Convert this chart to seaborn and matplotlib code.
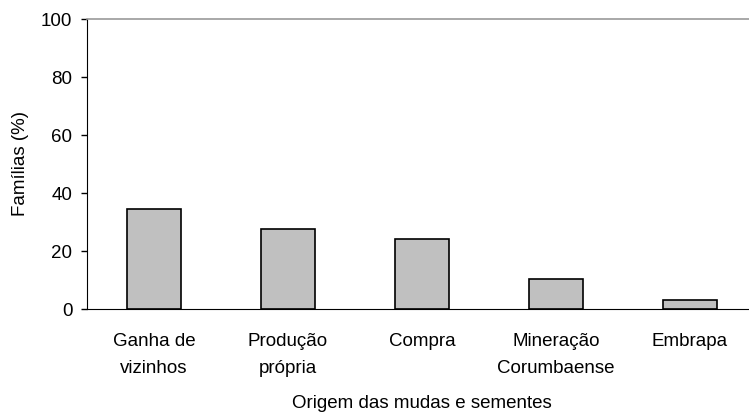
import matplotlib
matplotlib.use("Agg")
import matplotlib.pyplot as plt
import seaborn as sns
import pandas as pd

# Origem das mudas e sementes
categories = ["Ganha de\nvizinhos", "Produção\nprópria", "Compra",
              "Mineração\nCorumbaense", "Embrapa"]
percent = [34.5, 27.6, 24.2, 10.3, 3.2]

df = pd.DataFrame({"origem": categories, "familias": percent})

sns.set_style("white")
plt.rcParams['font.family'] = ['Liberation Sans', 'DejaVu Sans']
plt.rcParams['text.color'] = 'black'
plt.rcParams['axes.labelcolor'] = 'black'
plt.rcParams['xtick.color'] = 'black'
plt.rcParams['ytick.color'] = 'black'

FS = 13.5

fig = plt.figure(figsize=(7.49, 4.12), dpi=100)
# axes run a little past the right edge, as in the original
ax = fig.add_axes([87 / 749, 103 / 412, 670 / 749, 290 / 412])

sns.barplot(data=df, x="origem", y="familias", color="#c0c0c0",
            edgecolor="black", linewidth=1.2, width=0.41, saturation=1, ax=ax)

ax.set_xlim(-0.5, 4.5)
ax.set_ylim(0, 100)
ax.set_yticks([0, 20, 40, 60, 80, 100])

ax.set_xlabel("Origem das mudas e sementes", fontsize=FS, labelpad=13)
ax.set_ylabel("Famílias (%)", fontsize=FS, labelpad=9)
ax.tick_params(axis="y", length=4.5, width=1, labelsize=FS, left=True, pad=6)
ax.tick_params(axis="x", length=0, labelsize=FS, pad=17)
for lbl in ax.get_xticklabels():
    lbl.set_linespacing(1.78)

ax.spines["top"].set_color("#999999")
ax.spines["top"].set_linewidth(1.2)
ax.spines["right"].set_visible(False)
ax.spines["left"].set_color("black")
ax.spines["bottom"].set_color("black")

fig.savefig("out.png", dpi=100)
plt.close()
